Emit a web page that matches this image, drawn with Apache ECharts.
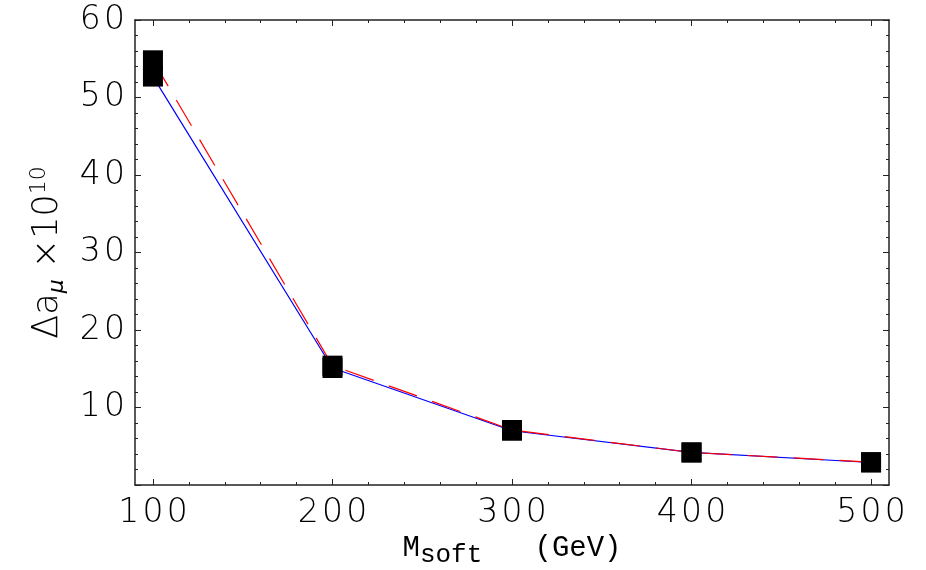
<!DOCTYPE html>
<html>
<head>
<meta charset="utf-8">
<script src="https://cdn.jsdelivr.net/npm/echarts@6/dist/echarts.min.js"></script>
<style>
html,body{margin:0;padding:0;background:#fff;}
#chart{width:926px;height:570px;}
</style>
</head>
<body>
<div id="chart"></div>
<script>
// Data
const mSoft = [100, 200, 300, 400, 500];
const blueSolid = [52.7, 15.1, 7.0, 4.2, 2.9];
const redDashed = [54.8, 15.4, 7.1, 4.2, 2.95];
const xMajorTicks = [100, 200, 300, 400, 500];
const xMinorTicks = [120, 140, 160, 180, 220, 240, 260, 280, 320, 340, 360, 380, 420, 440, 460, 480];
const yTickLabels = [10, 20, 30, 40, 50, 60];

const pairs = (ys) => mSoft.map((x, i) => [x, ys[i]]);
const spaced = (v) => String(v).split('').join('\u200A');

const chart = echarts.init(document.getElementById('chart'), null, {renderer: 'canvas'});
const frameLine = {show: true, lineStyle: {color: '#222', width: 1.5}};
const labelFont = {fontFamily: 'DejaVu Sans', fontWeight: 200, fontSize: 33, color: '#000', formatter: spaced};

function xAxisDef(pos, ticks, len, showLabel, showLine) {
  return {
    type: 'value', position: pos, min: 90, max: 510,
    axisLine: showLine ? frameLine : {show: false},
    axisTick: {show: true, inside: true, length: len, customValues: ticks, lineStyle: {color: '#222', width: 1}},
    axisLabel: showLabel ? Object.assign({show: true, margin: 12, customValues: xMajorTicks}, labelFont) : {show: false},
    splitLine: {show: false}
  };
}

const option = {
  animation: false,
  backgroundColor: '#fff',
  grid: {left: 135, right: 37, top: 20, bottom: 85, containLabel: false, outerBoundsMode: 'none'},
  xAxis: [
    Object.assign(xAxisDef('bottom', xMajorTicks, 6, true, true), {
      name: '{m|M}{s|soft}{m|   (GeV)}',
      nameLocation: 'middle',
      nameGap: 43,
      nameMoveOverlap: false,
      nameTextStyle: {
        rich: {
          m: {fontFamily: 'Liberation Mono', fontSize: 29, color: '#000', lineHeight: 40, verticalAlign: 'middle'},
          s: {fontFamily: 'Liberation Mono', fontSize: 26, color: '#000', lineHeight: 26, padding: [14, 0, 0, 0], verticalAlign: 'bottom'}
        }
      }
    }),
    xAxisDef('bottom', xMinorTicks, 3, false, false),
    xAxisDef('top', xMajorTicks, 6, false, true),
    xAxisDef('top', xMinorTicks, 3, false, false)
  ],
  yAxis: [
    {
      type: 'value', position: 'left', min: 0, max: 60, interval: 10,
      axisLine: frameLine,
      axisTick: {show: true, inside: true, length: 6, lineStyle: {color: '#222', width: 1}},
      minorTick: {show: true, splitNumber: 5, length: 3, lineStyle: {color: '#222', width: 1}},
      axisLabel: Object.assign({show: true, margin: 10, customValues: yTickLabels}, labelFont),
      splitLine: {show: false},
      name: '{m|Δa}{sub|μ}{m| ×10}{sup|10}',
      nameLocation: 'middle',
      nameRotate: 90,
      nameGap: 67,
      nameMoveOverlap: false,
      nameTextStyle: {
        rich: {
          m: {fontFamily: 'DejaVu Sans', fontWeight: 200, fontSize: 35, color: '#000', lineHeight: 40, verticalAlign: 'middle'},
          sub: {fontFamily: 'DejaVu Sans', fontWeight: 200, fontSize: 22, fontStyle: 'italic', color: '#000', lineHeight: 22, padding: [18, 0, 0, 0], verticalAlign: 'bottom'},
          sup: {fontFamily: 'DejaVu Sans', fontWeight: 200, fontSize: 22, color: '#000', lineHeight: 22, verticalAlign: 'top'}
        }
      }
    },
    {
      type: 'value', position: 'right', min: 0, max: 60, interval: 10,
      axisLine: frameLine,
      axisTick: {show: true, inside: true, length: 6, lineStyle: {color: '#222', width: 1}},
      minorTick: {show: true, splitNumber: 5, length: 3, lineStyle: {color: '#222', width: 1}},
      axisLabel: {show: false},
      splitLine: {show: false}
    }
  ],
  series: [
    {
      name: 'blue', type: 'line', xAxisIndex: 0, yAxisIndex: 0,
      data: pairs(blueSolid),
      lineStyle: {color: '#0000ff', width: 1.2, type: 'solid'},
      symbol: 'rect', symbolSize: 20, showSymbol: true,
      itemStyle: {color: '#000', borderWidth: 0},
      emphasis: {disabled: true}
    },
    {
      name: 'red', type: 'line', xAxisIndex: 0, yAxisIndex: 0,
      data: pairs(redDashed),
      lineStyle: {color: '#ff0000', width: 1.2, type: [30, 16]},
      symbol: 'rect', symbolSize: 20, showSymbol: true,
      itemStyle: {color: '#000', borderWidth: 0},
      emphasis: {disabled: true}
    }
  ]
};
chart.setOption(option);
</script>
</body>
</html>
